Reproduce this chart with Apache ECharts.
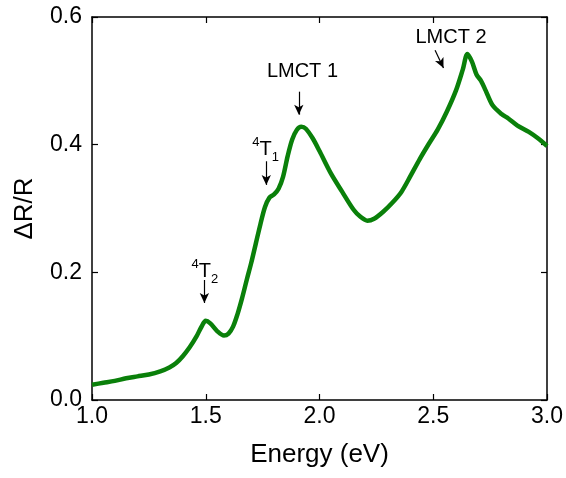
<!DOCTYPE html>
<html>
<head>
<meta charset="utf-8">
<script src="https://cdn.jsdelivr.net/npm/echarts@6/dist/echarts.min.js"></script>
<style>
  html, body { margin: 0; padding: 0; background: #fff; }
  #chart { width: 566px; height: 478px; }
</style>
</head>
<body>
<div id="chart"></div>
<script>
// spectrum
const energy = [1.00, 1.05, 1.10, 1.15, 1.20, 1.25, 1.30, 1.34, 1.37, 1.40, 1.43, 1.46, 1.48, 1.50,
  1.52, 1.55, 1.58, 1.60, 1.62, 1.64, 1.66, 1.68, 1.70, 1.72, 1.74, 1.76, 1.78, 1.80, 1.82, 1.84, 1.86,
  1.88, 1.90, 1.92, 1.94, 1.97, 2.00, 2.05, 2.10, 2.15, 2.18, 2.21, 2.24, 2.28, 2.32, 2.36, 2.40,
  2.44, 2.48, 2.52, 2.56, 2.60, 2.63, 2.65, 2.67, 2.69, 2.71, 2.73, 2.76, 2.80, 2.83, 2.87, 2.92,
  2.96, 3.00];
const dR = [0.024, 0.027, 0.030, 0.034, 0.037, 0.040, 0.045, 0.051, 0.058, 0.069, 0.083, 0.100, 0.114, 0.124,
  0.120, 0.108, 0.101, 0.104, 0.115, 0.135, 0.160, 0.188, 0.215, 0.245, 0.275, 0.302, 0.317, 0.322, 0.331, 0.350, 0.382,
  0.408, 0.423, 0.428, 0.425, 0.410, 0.390, 0.355, 0.326, 0.298, 0.287, 0.281, 0.284, 0.295, 0.309, 0.326, 0.351,
  0.377, 0.401, 0.424, 0.452, 0.485, 0.518, 0.542, 0.530, 0.510, 0.500, 0.485, 0.462, 0.448, 0.441, 0.430, 0.420,
  0.410, 0.398];
const peakLabels = ['{sup|4}T{sub|2}', '{sup|4}T{sub|1}', 'LMCT 1', 'LMCT 2'];

const font = 'Liberation Sans, Arial, sans-serif';
const chart = echarts.init(document.getElementById('chart'));

const axisBase = {
  type: 'value',
  axisLine: { show: true, onZero: false, lineStyle: { color: '#000', width: 1.5 } },
  axisTick: { show: true, inside: true, length: 6, lineStyle: { color: '#000', width: 1.2 } },
  splitLine: { show: false }
};

chart.setOption({
  animation: false,
  backgroundColor: '#fff',
  grid: { left: 92, right: 18, top: 17, bottom: 78 },
  xAxis: [
    Object.assign({}, axisBase, {
      min: 1, max: 3, interval: 0.5, position: 'bottom',
      name: 'Energy (eV)', nameLocation: 'middle', nameGap: 42,
      nameTextStyle: { fontFamily: font, fontSize: 26, color: '#000' },
      axisLabel: { fontFamily: font, fontSize: 23, color: '#000', margin: 5,
        formatter: v => v.toFixed(1) }
    }),
    Object.assign({}, axisBase, {
      min: 1, max: 3, interval: 0.5, position: 'top', axisLabel: { show: false }
    })
  ],
  yAxis: [
    Object.assign({}, axisBase, {
      min: 0, max: 0.6, interval: 0.2, position: 'left',
      name: 'ΔR/R', nameLocation: 'middle', nameGap: 54,
      nameTextStyle: { fontFamily: font, fontSize: 26, color: '#000' },
      axisLabel: { fontFamily: font, fontSize: 23, color: '#000', margin: 10,
        formatter: v => v.toFixed(1) }
    }),
    Object.assign({}, axisBase, {
      min: 0, max: 0.6, interval: 0.2, position: 'right', axisLabel: { show: false }
    })
  ],
  series: [{
    type: 'line',
    data: energy.map((e, i) => [e, dR[i]]),
    smooth: 0.3,
    showSymbol: false,
    lineStyle: { color: '#0a800a', width: 4.5 },
    markPoint: {
      symbol: 'circle',
      symbolSize: 0,
      silent: true,
      label: {
        show: true, position: 'inside', fontFamily: font, fontSize: 20, color: '#000',
        rich: {
          sup: { fontFamily: font, fontSize: 13, color: '#000', verticalAlign: 'top', lineHeight: 28 },
          sub: { fontFamily: font, fontSize: 13, color: '#000', verticalAlign: 'bottom', lineHeight: 28 }
        }
      },
      data: [
        { coord: [1.496, 0.201], label: { formatter: peakLabels[0] } },
        { coord: [1.763, 0.392], label: { formatter: peakLabels[1] } },
        { coord: [1.925, 0.514], label: { formatter: peakLabels[2] } },
        { coord: [2.578, 0.568], label: { formatter: peakLabels[3] } }
      ]
    },
    markLine: {
      silent: true,
      symbol: ['none', 'arrow'],
      symbolSize: [7, 10],
      label: { show: false },
      lineStyle: { color: '#000', width: 1.2, type: 'solid' },
      data: [
        [{ coord: [1.494, 0.188] }, { coord: [1.494, 0.152] }],
        [{ coord: [1.766, 0.374] }, { coord: [1.766, 0.337] }],
        [{ coord: [1.909, 0.483] }, { coord: [1.909, 0.447] }],
        [{ coord: [2.508, 0.548] }, { coord: [2.545, 0.520] }]
      ]
    }
  }]
});
</script>
</body>
</html>
